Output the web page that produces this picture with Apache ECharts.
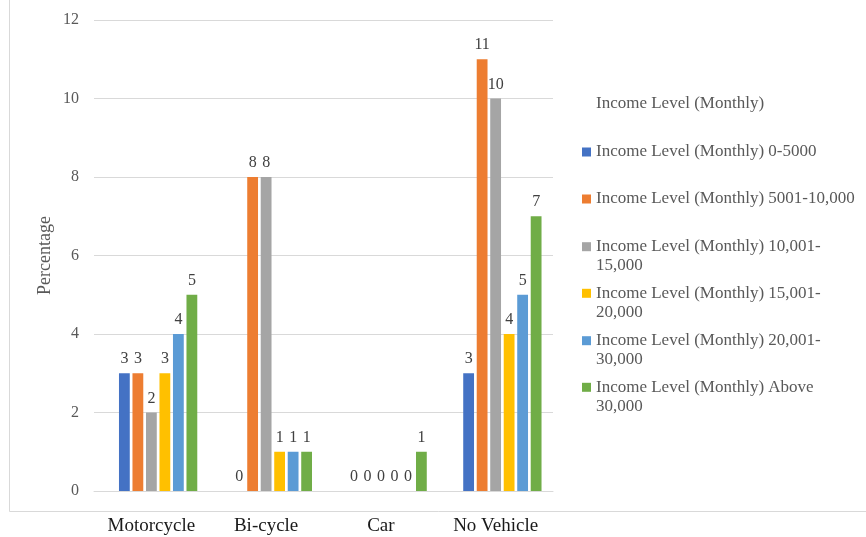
<!DOCTYPE html>
<html>
<head>
<meta charset="utf-8">
<script src="https://cdn.jsdelivr.net/npm/echarts@6/dist/echarts.min.js"></script>
<style>
  html, body { margin: 0; padding: 0; background: #fff; }
  #chart { width: 866px; height: 537px; }
</style>
</head>
<body>
<div id="chart"></div>
<script>
// Vehicle ownership by monthly income level (percentage of respondents)
const categories = ['Motorcycle', 'Bi-cycle', 'Car', 'No Vehicle'];

const seriesNames = [
  'Income Level (Monthly)',
  'Income Level (Monthly) 0-5000',
  'Income Level (Monthly) 5001-10,000',
  'Income Level (Monthly) 10,001-\n15,000',
  'Income Level (Monthly) 15,001-\n20,000',
  'Income Level (Monthly) 20,001-\n30,000',
  'Income Level (Monthly) Above\n30,000'
];

// Header series carries no values
const headerValues = [null, null, null, null];
const income0to5000 = [3, 0, 0, 3];
const income5001to10000 = [3, 8, 0, 11];
const income10001to15000 = [2, 8, 0, 10];
const income15001to20000 = [3, 1, 0, 4];
const income20001to30000 = [4, 1, 0, 5];
const incomeAbove30000 = [5, 1, 1, 7];

const yTicks = { min: 0, max: 12, interval: 2 };

const seriesValues = [
  headerValues, income0to5000, income5001to10000, income10001to15000,
  income15001to20000, income20001to30000, incomeAbove30000
];
const seriesColors = ['transparent', '#4472C4', '#ED7D31', '#A5A5A5', '#FFC000', '#5B9BD5', '#70AD47'];

const serif = '"Liberation Serif", "Times New Roman", serif';

// Legend entries are stacked at fixed first-line positions; a leading
// blank line keeps the marker beside the first line of wrapped entries.
const legendCenters = [104, 152, 199, 246.7, 293.3, 340.7, 387.3];
const lineH = 19;
const legends = seriesNames.map((name, i) => {
  const twoLines = name.indexOf('\n') >= 0;
  return {
    orient: 'vertical',
    left: 582,
    top: twoLines ? legendCenters[i] - lineH * 1.5 : legendCenters[i] - lineH / 2,
    itemWidth: 9,
    itemHeight: 9,
    icon: 'rect',
    selectedMode: false,
    itemGap: 0,
    padding: 0,
    data: [name],
    formatter: n => (twoLines ? '\n' + n : n),
    textStyle: {
      fontFamily: serif,
      fontSize: 17,
      color: '#595959',
      lineHeight: lineH
    }
  };
});

const series = seriesNames.map((name, i) => ({
  name: name,
  type: 'bar',
  data: seriesValues[i],
  barGap: '25%',
  barCategoryGap: '20%',
  itemStyle: { color: seriesColors[i] },
  label: {
    show: i > 0,
    position: 'top',
    distance: 6,
    fontFamily: serif,
    fontSize: 16,
    color: '#404040'
  }
}));

const chart = echarts.init(document.getElementById('chart'), null, { renderer: 'canvas' });
chart.setOption({
  animation: false,
  backgroundColor: '#ffffff',
  grid: { left: 94, right: 313, top: 20, bottom: 46 },
  graphic: [{
    type: 'rect',
    silent: true,
    shape: { x: 9.5, y: -10, width: 900, height: 521.5 },
    style: { fill: 'none', stroke: '#d9d9d9', lineWidth: 1 }
  }],
  legend: legends,
  xAxis: {
    type: 'category',
    data: categories,
    axisTick: { show: false },
    axisLine: { lineStyle: { color: '#d9d9d9' } },
    axisLabel: { fontFamily: serif, fontSize: 19, color: '#1a1a1a', margin: 26 }
  },
  yAxis: {
    type: 'value',
    min: yTicks.min,
    max: yTicks.max,
    interval: yTicks.interval,
    name: 'Percentage',
    nameLocation: 'middle',
    nameRotate: 90,
    nameGap: 40,
    nameMoveOverlap: false,
    nameTextStyle: { fontFamily: serif, fontSize: 18, color: '#595959' },
    axisLine: { show: false },
    axisTick: { show: false },
    splitLine: { lineStyle: { color: '#d9d9d9' } },
    axisLabel: { fontFamily: serif, fontSize: 16, color: '#595959', margin: 15 }
  },
  series: series
});
</script>
</body>
</html>
